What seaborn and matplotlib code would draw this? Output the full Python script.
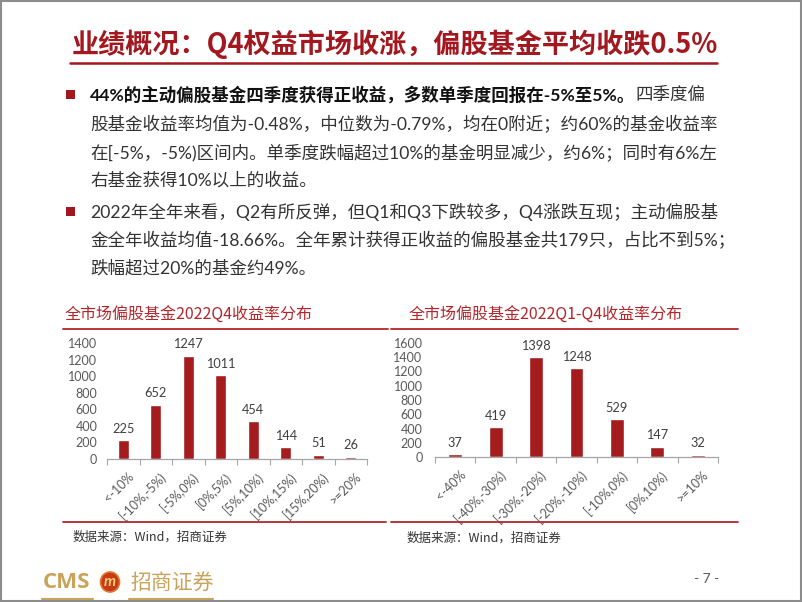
import matplotlib
matplotlib.use('Agg')
import matplotlib.pyplot as plt
import matplotlib.transforms as mtransforms
import seaborn as sns
import pandas as pd
from matplotlib.patches import Rectangle, Ellipse
from matplotlib.lines import Line2D

# ---------------- data ----------------
q4_categories = ['<-10%', '[-10%,-5%)', '[-5%,0%)', '[0%,5%)', '[5%,10%)',
                 '[10%,15%)', '[15%,20%)', '>=20%']
q4_counts = [225, 652, 1247, 1011, 454, 144, 51, 26]
q4_yticks = [0, 200, 400, 600, 800, 1000, 1200, 1400]

year_categories = ['<-40%', '[-40%,-30%)', '[-30%,-20%)', '[-20%,-10%)',
                   '[-10%,0%)', '[0%,10%)', '>=10%']
year_counts = [37, 419, 1398, 1248, 529, 147, 32]
year_yticks = [0, 200, 400, 600, 800, 1000, 1200, 1400, 1600]

slide_title = '业绩概况：Q4权益市场收涨，偏股基金平均收跌0.5%'
chart1_title = '全市场偏股基金2022Q4收益率分布'
chart2_title = '全市场偏股基金2022Q1-Q4收益率分布'
source_text = '数据来源：Wind，招商证券'

bullet1_bold = '44%的主动偏股基金四季度获得正收益，多数单季度回报在-5%至5%。'
bullet1_lines = ['四季度偏',
                 '股基金收益率均值为-0.48%，中位数为-0.79%，均在0附近；约60%的基金收益率',
                 '在[-5%，-5%)区间内。单季度跌幅超过10%的基金明显减少，约6%；同时有6%左',
                 '右基金获得10%以上的收益。']
bullet2_lines = ['2022年全年来看，Q2有所反弹，但Q1和Q3下跌较多，Q4涨跌互现；主动偏股基',
                 '金全年收益均值-18.66%。全年累计获得正收益的偏股基金共179只，占比不到5%；',
                 '跌幅超过20%的基金约49%。']

# ---------------- style ----------------
sns.set_theme(style='white')
FAM = ['Lato', 'Noto Sans CJK SC', 'DejaVu Sans']
CJK = ['Noto Sans CJK SC', 'DejaVu Sans']
plt.rcParams['font.family'] = FAM

DARK_RED = '#A3171E'
BAR_RED = '#A51C1E'
CHART_TITLE_RED = '#B3262B'
GOLD = '#C9A35A'
GRAY_TXT = '#595959'

W, H = 802, 602
fig = plt.figure(figsize=(W / 100, H / 100), dpi=100)
fig.patch.set_facecolor('white')


def fx(x):
    return x / W


def fy(y):
    return 1 - y / H


def hline(x0, x1, y, color, lw):
    fig.add_artist(Line2D([fx(x0), fx(x1)], [fy(y), fy(y)], color=color,
                          lw=lw, transform=fig.transFigure))


# frame
fig.add_artist(Rectangle((0.001, 0.001), 0.998, 0.998, fill=False,
                         edgecolor='#8c8c8c', lw=1.5, transform=fig.transFigure))

# slide title
fig.text(fx(72), fy(44), slide_title, family=CJK, fontsize=19.5,
         fontweight='bold', color=DARK_RED, ha='left', va='center')
hline(70, 717, 63, DARK_RED, 1.8)

# bullets
renderer = fig.canvas.get_renderer()
BODY_FS = 12.6
line_y = [95, 124, 152, 180]
line_y2 = [212, 240, 268]
TX = 90
for y in (line_y[0], line_y2[0]):
    fig.add_artist(Rectangle((fx(66), fy(y + 4.5)), 9 / W, 9 / H,
                             facecolor=DARK_RED, edgecolor='none',
                             transform=fig.transFigure))

t = fig.text(fx(TX), fy(line_y[0]), bullet1_bold, fontsize=BODY_FS,
             fontweight='bold', color='#111111', ha='left', va='center')
bb = t.get_window_extent(renderer)
fig.text(bb.x1 / W, fy(line_y[0]), bullet1_lines[0], fontsize=BODY_FS,
         color='#333333', ha='left', va='center')
for s, y in zip(bullet1_lines[1:], line_y[1:]):
    fig.text(fx(TX), fy(y), s, fontsize=BODY_FS, color='#333333',
             ha='left', va='center')
for s, y in zip(bullet2_lines, line_y2):
    fig.text(fx(TX), fy(y), s, fontsize=BODY_FS, color='#333333',
             ha='left', va='center')

# chart titles and frame lines
fig.text(fx(65), fy(315), chart1_title, family=CJK, fontsize=11.5,
         color=CHART_TITLE_RED, ha='left', va='center')
fig.text(fx(409), fy(315), chart2_title, family=CJK, fontsize=11.5,
         color=CHART_TITLE_RED, ha='left', va='center')
hline(63, 388, 329, CHART_TITLE_RED, 1.3)
hline(391, 738, 329, CHART_TITLE_RED, 1.3)
hline(63, 386, 522, CHART_TITLE_RED, 1.3)
hline(391, 738, 522, CHART_TITLE_RED, 1.3)
fig.text(fx(73), fy(537), source_text, family=CJK, fontsize=9,
         color='#333333', ha='left', va='center')
fig.text(fx(407), fy(538), source_text, family=CJK, fontsize=9,
         color='#333333', ha='left', va='center')


def draw_chart(rect, cats, vals, yticks, width, ypad):
    ax = fig.add_axes(rect)
    df = pd.DataFrame({'cat': cats, 'val': vals})
    sns.barplot(data=df, x='cat', y='val', color=BAR_RED, saturation=1,
                width=width, ax=ax)
    n = len(cats)
    ax.set_xlim(-0.5, n - 0.5)
    ax.set_ylim(yticks[0], yticks[-1])
    ax.set_yticks(yticks)
    ax.set_yticklabels([str(v) for v in yticks])
    ax.set_xlabel('')
    ax.set_ylabel('')
    ax.set_facecolor('none')
    for sp in ('top', 'right', 'left'):
        ax.spines[sp].set_visible(False)
    ax.spines['bottom'].set_color('#A6A6A6')
    ax.spines['bottom'].set_linewidth(0.9)
    ax.set_xticks([i - 0.5 for i in range(n + 1)], minor=True)
    ax.tick_params(axis='x', which='minor', length=4, width=0.8,
                   color='#A6A6A6', direction='out', bottom=True)
    ax.tick_params(axis='x', which='major', length=0, pad=8,
                   labelsize=9, labelcolor=GRAY_TXT)
    ax.tick_params(axis='y', length=0, pad=ypad, labelsize=9,
                   labelcolor=GRAY_TXT)
    shift = mtransforms.ScaledTranslation(4 / 100, 0, fig.dpi_scale_trans)
    for lab in ax.get_xticklabels():
        lab.set_rotation(45)
        lab.set_ha('right')
        lab.set_va('top')
        lab.set_rotation_mode('anchor')
        lab.set_transform(lab.get_transform() + shift)
    for i, v in enumerate(vals):
        ax.annotate(str(v), (i, v), xytext=(0, 4), textcoords='offset points',
                    ha='center', va='bottom', fontsize=9.2, color='#404040')
    ax.grid(False)
    return ax


draw_chart([fx(107), fy(459), 260 / W, 116 / H], q4_categories, q4_counts,
           q4_yticks, 0.35, 7)
draw_chart([fx(435), fy(457), 283 / W, 114 / H], year_categories, year_counts,
           year_yticks, 0.34, 9)

# footer logo
fig.text(fx(43), fy(582), 'CMS', fontsize=16, fontweight='bold', color=GOLD,
         ha='left', va='center', family=['Open Sans', 'DejaVu Sans'])
fig.add_artist(Ellipse((fx(110), fy(582)), 19 / W, 20 / H,
                       facecolor='#C8381B', edgecolor='#E07A2A', lw=1.2,
                       transform=fig.transFigure))
fig.text(fx(110), fy(582), 'm', fontsize=11, fontweight='bold',
         color='#F6D46A', ha='center', va='center', style='italic')
fig.text(fx(130), fy(583), '招商证券', family=CJK, fontsize=15, color=GOLD,
         ha='left', va='center')
hline(42, 93, 599, GOLD, 1.5)
hline(129, 213, 599, GOLD, 1.5)
fig.text(fx(707), fy(579), '- 7 -', fontsize=10, color=GRAY_TXT,
         ha='center', va='center')

fig.savefig('out.png', dpi=100, facecolor='white')
